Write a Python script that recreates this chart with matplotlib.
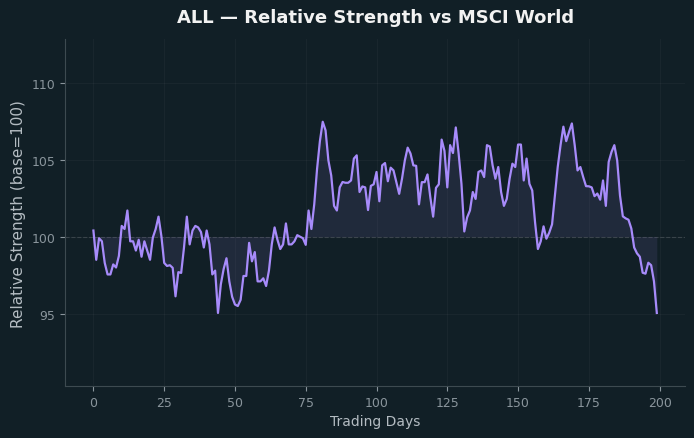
import matplotlib
matplotlib.use('Agg')
import matplotlib.pyplot as plt
import numpy as np

BG     = '#111f26'
PURPLE = '#a78bfa'
TEXT   = '#f2f2f2'
MUTED  = '#b4bcc2'
TICK   = '#8a959c'
SPINE  = '#3d4a50'

# relative strength vs MSCI World, base = 100
rs = [
    100.4, 98.5, 99.9, 99.7, 98.3, 97.55, 97.55, 98.2, 98.0, 98.75,
    100.7, 100.5, 101.7, 99.7, 99.7, 99.1, 99.8, 98.7, 99.7, 99.1,
    98.5, 99.95, 100.5, 101.3, 100.05, 98.3, 98.1, 98.15, 97.98, 96.13,
    97.7, 97.65, 99.3, 101.3, 99.5, 100.4, 100.7, 100.6, 100.3, 99.3,
    100.4, 99.5, 97.55, 97.8, 95.05, 96.9, 97.9, 98.6, 97.1, 96.1,
    95.6, 95.5, 95.9, 97.45, 97.45, 99.6, 98.4, 99.0, 97.1, 97.1,
    97.3, 96.8, 97.8, 99.5, 100.6, 99.8, 99.2, 99.5, 100.86, 99.5,
    99.5, 99.7, 100.1, 100.0, 99.9, 99.47, 101.7, 100.5, 102.1, 104.4,
    106.2, 107.46, 106.9, 104.95, 103.97, 102.0, 101.7, 103.2, 103.55, 103.5,
    103.5, 103.65, 105.07, 105.28, 102.9, 103.26, 103.2, 101.73, 103.3, 103.4,
    104.2, 102.3, 104.63, 104.78, 103.6, 104.48, 104.3, 103.54, 102.78, 103.76,
    104.95, 105.78, 105.4, 104.63, 104.6, 102.1, 103.54, 103.54, 104.04, 102.56,
    101.3, 103.17, 103.4, 106.3, 105.57, 103.2, 105.94, 105.43, 107.09, 105.4,
    103.43, 100.34, 101.25, 101.7, 102.9, 102.45, 104.2, 104.3, 103.87, 105.94,
    105.85, 104.63, 103.76, 104.52, 102.9, 102.0, 102.45, 103.76, 104.74, 104.52,
    105.98, 105.98, 103.65, 105.07, 103.43, 103.0, 100.93, 99.2, 99.7, 100.67,
    99.87, 100.26, 100.8, 102.67, 104.52, 105.94, 107.14, 106.2, 106.8, 107.35,
    105.94, 104.3, 104.52, 103.87, 103.28, 103.27, 103.2, 102.63, 102.8, 102.4,
    103.65, 102.0, 104.85, 105.5, 105.94, 104.95, 102.67, 101.32, 101.19, 101.1,
    100.53, 99.3, 98.92, 98.7, 97.66, 97.6, 98.31, 98.15, 97.1, 95.05,
]
base = 100
days = np.arange(len(rs))

fig, ax = plt.subplots(figsize=(6.94, 4.39), dpi=100, facecolor=BG)
ax.set_facecolor(BG)
fig.subplots_adjust(left=0.094, right=0.987, top=0.909, bottom=0.118)

ax.plot(days, rs, color=PURPLE, lw=1.6, zorder=3)
ax.fill_between(days, rs, base, color=PURPLE, alpha=0.1, lw=0, zorder=2)
ax.axhline(base, color='#6b7378', lw=0.8, ls='--', alpha=0.4, zorder=1)

ax.set_ylim(min(rs) * 0.95, max(rs) * 1.05)
ax.set_yticks([95, 100, 105, 110])
ax.set_xticks([0, 25, 50, 75, 100, 125, 150, 175, 200])

ax.grid(True, color='#ffffff', alpha=0.035, lw=0.8)
ax.set_axisbelow(True)
for s in ['top', 'right']:
    ax.spines[s].set_visible(False)
for s in ['left', 'bottom']:
    ax.spines[s].set_color(SPINE)
ax.tick_params(colors=TICK, labelsize=9, length=3.5)

ax.set_title('ALL \u2014 Relative Strength vs MSCI World', color=TEXT,
             fontsize=13, fontweight='bold', pad=12)
ax.set_xlabel('Trading Days', color=MUTED, fontsize=10)
ax.set_ylabel('Relative Strength (base=100)', color=MUTED, fontsize=11)

fig.savefig('out.png', dpi=100, facecolor=BG)
